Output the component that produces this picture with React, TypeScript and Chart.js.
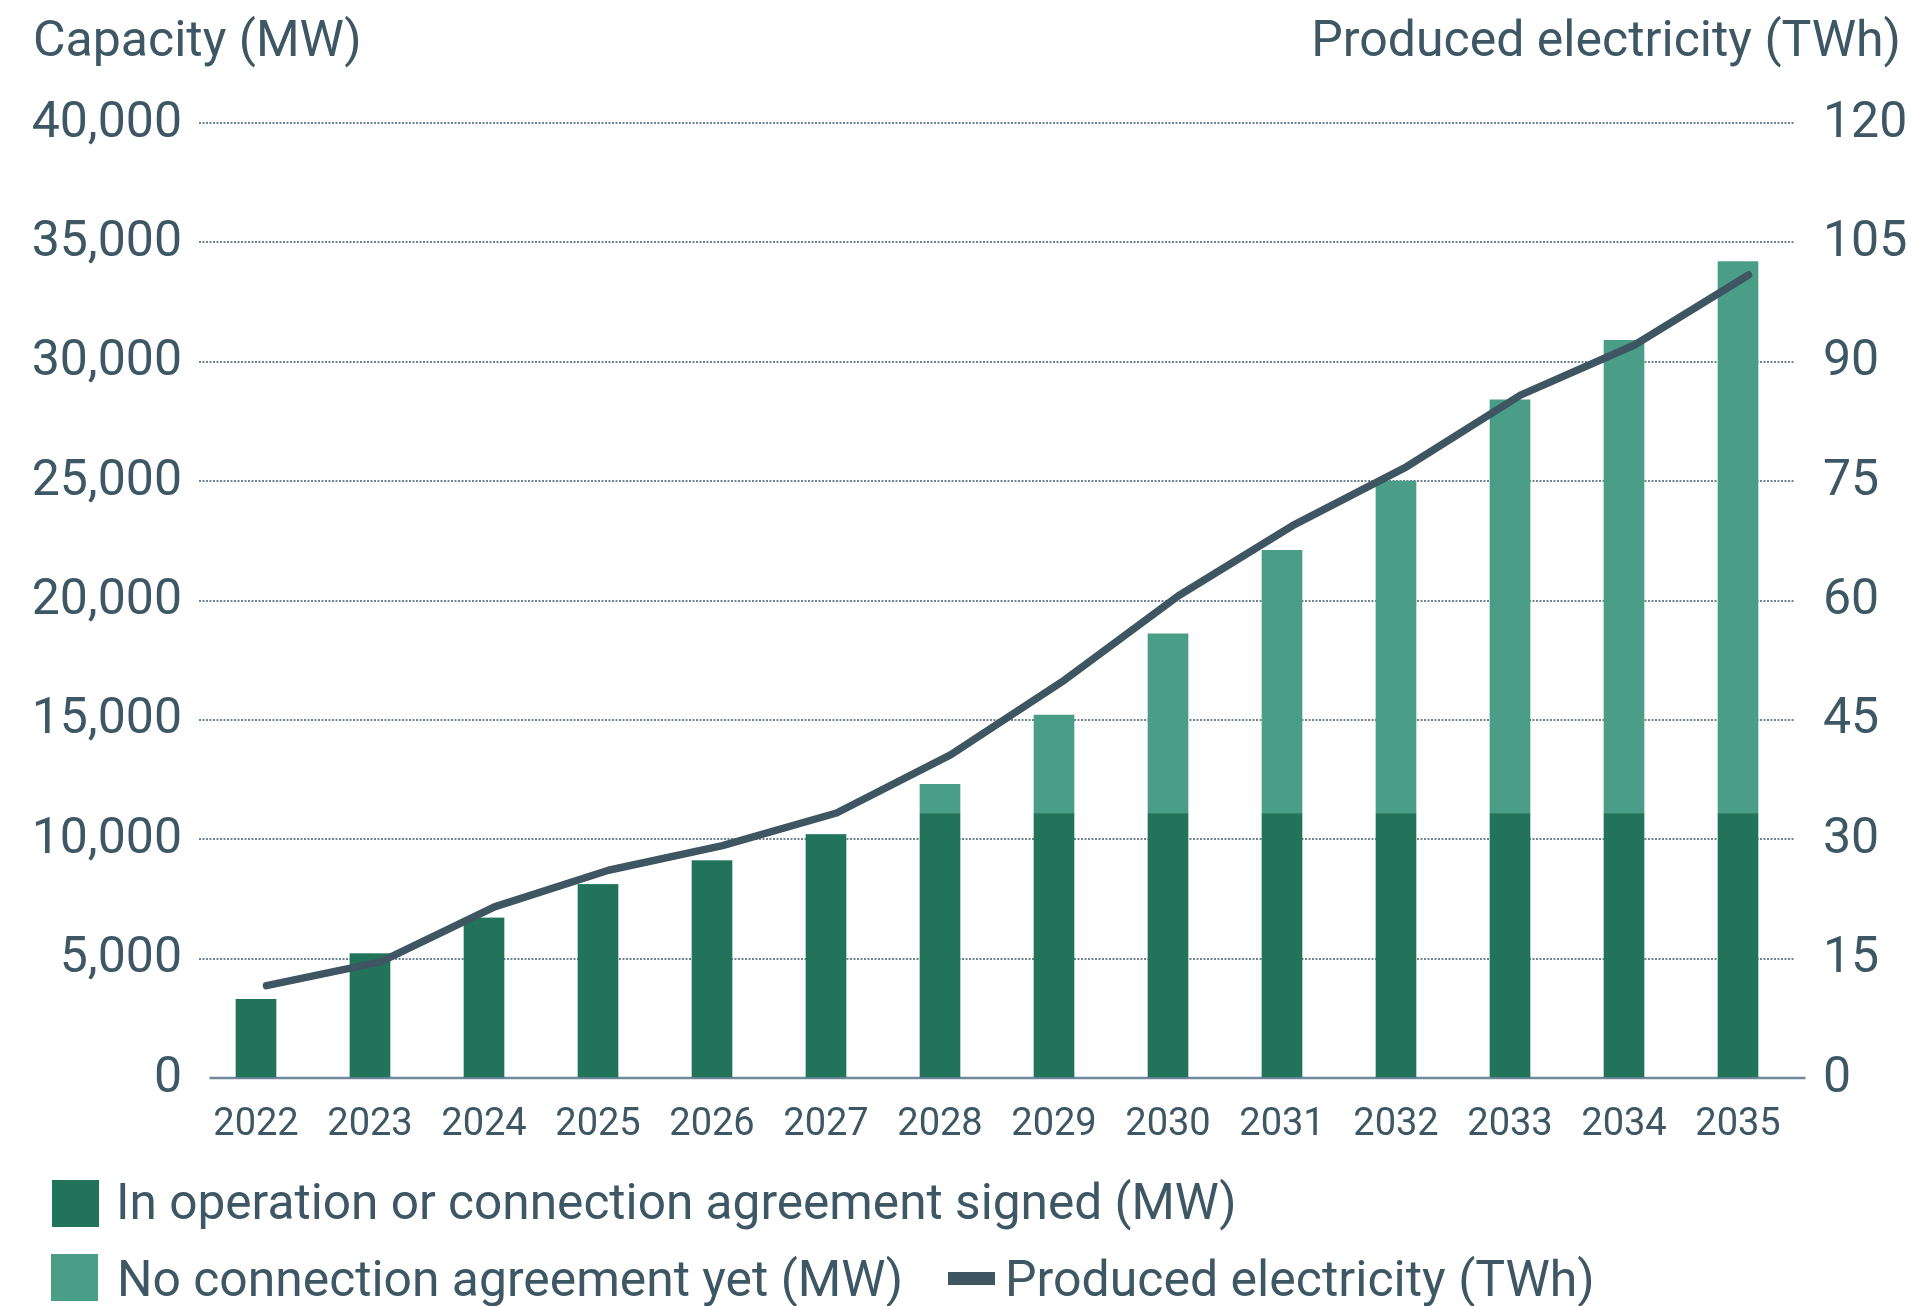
import React, { useEffect, useRef } from "react";
import { Chart, registerables } from "chart.js";

Chart.register(...registerables);

// ---- data ----
const years = ["2022", "2023", "2024", "2025", "2026", "2027", "2028", "2029", "2030", "2031", "2032", "2033", "2034", "2035"];
const signedMW = [3300, 5200, 6700, 8100, 9100, 10200, 11080, 11080, 11080, 11080, 11080, 11080, 11080, 11080];
const noAgreementMW = [0, 0, 0, 0, 0, 0, 1220, 4120, 7520, 11020, 13920, 17320, 19820, 23120];
const producedTWh = [11.6, 14.6, 21.5, 26.1, 29.2, 33.3, 40.6, 50.0, 60.6, 69.4, 76.8, 85.8, 92.1, 100.9];
const capacityTicks = [0, 5000, 10000, 15000, 20000, 25000, 30000, 35000, 40000];
const electricityTicks = [0, 15, 30, 45, 60, 75, 90, 105, 120];

const seriesNames = [
  "In operation or connection agreement signed (MW)",
  "No connection agreement yet (MW)",
  "Produced electricity (TWh)",
];
const leftAxisTitle = "Capacity (MW)";
const rightAxisTitle = "Produced electricity (TWh)";

// ---- style ----
const DARK = "#21735a";
const LIGHT = "#4a9d86";
const LINE = "#3e5562";
const TEXT = "#3d5765";
const GRID = "#6f8390";
const AXIS = "#71879a";
const FONT = "Roboto, 'Noto Sans', sans-serif";
const LINE_SHIFT_PX = 10.5; // the line and baseline sit slightly right of the bars in the reference

const shiftPlugin = {
  id: "shiftLineAxis",
  afterLayout(chart: any) {
    const s = chart.scales.xl;
    const a = chart.chartArea;
    if (!s || !a) return;
    s.left = a.left + LINE_SHIFT_PX;
    s.right = a.right + LINE_SHIFT_PX;
    s.width = s.right - s.left;
    s.configure();
  },
};

const baselinePlugin = {
  id: "baseline",
  beforeDatasetsDraw(chart: any) {
    const { ctx, chartArea } = chart;
    const y = chart.scales.y.getPixelForValue(0);
    ctx.save();
    ctx.strokeStyle = AXIS;
    ctx.lineWidth = 2.5;
    ctx.beginPath();
    ctx.moveTo(chartArea.left + LINE_SHIFT_PX, y);
    ctx.lineTo(chartArea.right + LINE_SHIFT_PX, y);
    ctx.stroke();
    ctx.restore();
  },
};

export default function App() {
  const canvasRef = useRef<HTMLCanvasElement | null>(null);

  useEffect(() => {
    const canvas = canvasRef.current;
    if (!canvas) return;
    const chart = new Chart(canvas, {
      type: "bar",
      data: {
        labels: years,
        datasets: [
          {
            type: "bar",
            label: seriesNames[0],
            data: signedMW,
            backgroundColor: DARK,
            barThickness: 40,
            grouped: false,
            xAxisID: "x",
            yAxisID: "y",
            order: 1,
          },
          {
            type: "bar",
            label: seriesNames[1],
            data: noAgreementMW,
            backgroundColor: LIGHT,
            barThickness: 40,
            grouped: false,
            xAxisID: "x",
            yAxisID: "y",
            order: 2,
          },
          {
            type: "line",
            label: seriesNames[2],
            data: producedTWh,
            borderColor: LINE,
            backgroundColor: LINE,
            borderWidth: 7.5,
            borderCapStyle: "round",
            borderJoinStyle: "round",
            pointRadius: 0,
            tension: 0,
            xAxisID: "xl",
            yAxisID: "y1",
            order: 0,
          } as any,
        ],
      },
      options: {
        responsive: false,
        animation: false,
        devicePixelRatio: 1,
        layout: { padding: { top: 123, left: 0, right: 0, bottom: 0 } },
        plugins: {
          legend: { display: false },
          tooltip: { enabled: false },
          title: { display: false },
        },
        scales: {
          x: {
            type: "category",
            stacked: true,
            offset: true,
            grid: { display: false, drawTicks: false },
            border: { display: false },
            ticks: {
              color: TEXT,
              font: { family: FONT, size: 38 },
              padding: 25,
              autoSkip: false,
              maxRotation: 0,
              minRotation: 0,
            },
            afterFit: (s: any) => {
              s.height = 228;
            },
          },
          xl: {
            type: "category",
            display: false,
            offset: true,
          },
          y: {
            type: "linear",
            position: "left",
            stacked: true,
            min: capacityTicks[0],
            max: capacityTicks[capacityTicks.length - 1],
            afterBuildTicks: (s: any) => {
              s.ticks = capacityTicks.map((v) => ({ value: v }));
            },
            grid: {
              drawTicks: false,
              lineWidth: 2,
              color: (c: any) => (c.tick && c.tick.value === 0 ? "rgba(0,0,0,0)" : GRID),
            },
            border: { display: false, dash: [2, 1.5] },
            ticks: {
              color: TEXT,
              font: { family: FONT, size: 50 },
              padding: 17,
              labelOffset: 1,
              callback: (v: any) => Number(v).toLocaleString("en-US"),
            },
            afterFit: (s: any) => {
              s.width = 199;
            },
          },
          y1: {
            type: "linear",
            position: "right",
            min: electricityTicks[0],
            max: electricityTicks[electricityTicks.length - 1],
            afterBuildTicks: (s: any) => {
              s.ticks = electricityTicks.map((v) => ({ value: v }));
            },
            grid: { display: false, drawTicks: false },
            border: { display: false },
            ticks: {
              color: TEXT,
              font: { family: FONT, size: 50 },
              padding: 28,
              labelOffset: 1,
              callback: (v: any) => String(v),
            },
            afterFit: (s: any) => {
              s.width = 116;
            },
          },
        },
      } as any,
      plugins: [shiftPlugin, baselinePlugin],
    });
    return () => chart.destroy();
  }, []);

  const textStyle: React.CSSProperties = {
    position: "absolute",
    fontFamily: FONT,
    fontSize: 50,
    lineHeight: "50px",
    color: TEXT,
    whiteSpace: "nowrap",
  };

  return (
    <div style={{ position: "absolute", left: 0, top: 0, width: 1911, height: 1306, overflow: "hidden", background: "#fff" }}>
      <canvas ref={canvasRef} width={1911} height={1306} style={{ position: "absolute", left: 0, top: 0, width: 1911, height: 1306 }} />
      <div style={{ ...textStyle, left: 33, top: 14 }}>{leftAxisTitle}</div>
      <div style={{ ...textStyle, right: 10, top: 14, textAlign: "right" }}>{rightAxisTitle}</div>
      {/* legend */}
      <div style={{ position: "absolute", left: 52, top: 1180, width: 47, height: 47, background: DARK }} />
      <div style={{ ...textStyle, left: 116, top: 1177, fontSize: 49.6 }}>{seriesNames[0]}</div>
      <div style={{ position: "absolute", left: 51, top: 1254, width: 47, height: 47, background: LIGHT }} />
      <div style={{ ...textStyle, left: 117, top: 1254, fontSize: 49.8 }}>{seriesNames[1]}</div>
      <div style={{ position: "absolute", left: 948, top: 1272, width: 47, height: 13, background: LINE }} />
      <div style={{ ...textStyle, left: 1005, top: 1254 }}>{seriesNames[2]}</div>
    </div>
  );
}
